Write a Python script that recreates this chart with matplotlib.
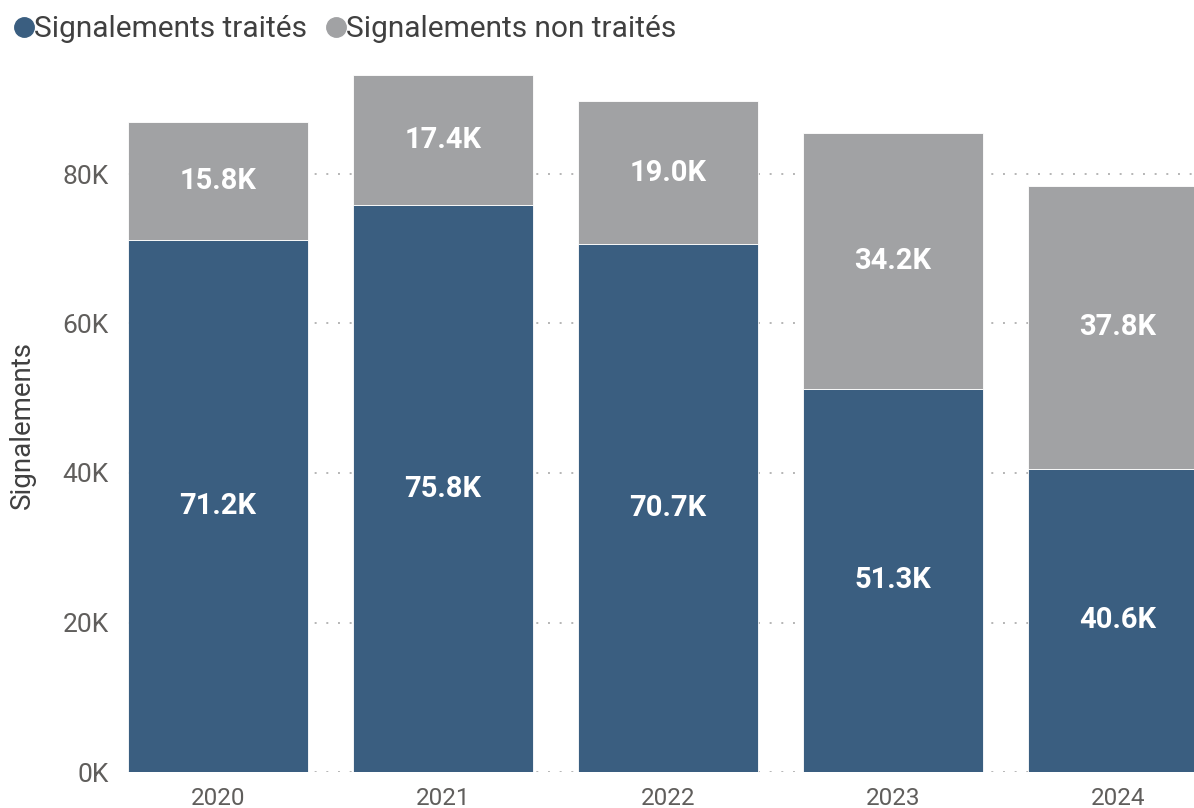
import matplotlib
matplotlib.use("Agg")
import matplotlib.pyplot as plt
from matplotlib.lines import Line2D
from matplotlib.ticker import FuncFormatter, MultipleLocator

plt.rcParams['font.family'] = ['Roboto', 'DejaVu Sans']

years = ["2020", "2021", "2022", "2023", "2024"]
traites = [71.2, 75.8, 70.7, 51.3, 40.6]        # thousands
non_traites = [15.8, 17.4, 19.0, 34.2, 37.8]    # thousands
series_names = ["Signalements traités", "Signalements non traités"]

BLUE = "#3A5E80"
GREY = "#A1A2A4"
TEXT = "#605E5C"

fig = plt.figure(figsize=(11.94, 8.08), dpi=100)
ax = fig.add_axes([128 / 1194, 36 / 808, 1066 / 1194, 706 / 808])

x = list(range(len(years)))
width = 0.8
ax.bar(x, traites, width=width, color=BLUE, edgecolor="white",
       linewidth=0.6, zorder=3)
ax.bar(x, non_traites, width=width, bottom=traites, color=GREY,
       edgecolor="white", linewidth=0.6, zorder=3)

for i in x:
    ax.text(i, traites[i] / 2, f"{traites[i]:.1f}K", ha="center", va="center",
            color="white", fontsize=21, fontweight="bold", zorder=4)
    ax.text(i, traites[i] + non_traites[i] / 2, f"{non_traites[i]:.1f}K",
            ha="center", va="center", color="white", fontsize=21,
            fontweight="bold", zorder=4)

ax.set_xlim(-0.4, -0.4 + 1066 / 225)
ax.set_ylim(0, 706 / 7.475)
ax.yaxis.set_major_locator(MultipleLocator(20))
ax.yaxis.set_major_formatter(FuncFormatter(lambda v, p: f"{v:.0f}K"))
ax.grid(axis="y", linestyle=(0, (1, 5)), color="#B5B5B5", linewidth=1.4, zorder=0)
ax.set_axisbelow(True)

ax.set_xticks(x)
ax.set_xticklabels(years)
ax.tick_params(axis="x", length=0, pad=11, labelsize=17.5, labelcolor=TEXT)
ax.tick_params(axis="y", length=0, pad=14, labelsize=19, labelcolor=TEXT)
for s in ax.spines.values():
    s.set_visible(False)

fig.text(22 / 1194, 1 - 425 / 808, "Signalements", rotation=90, ha="center",
         va="center", fontsize=20, color="#404040")

handles = [Line2D([], [], marker="o", linestyle="none", markersize=14,
                  markerfacecolor=c, markeredgecolor=c) for c in (BLUE, GREY)]
fig.legend(handles, series_names, loc="upper left",
           bbox_to_anchor=(0.0, 1.0 - 6 / 808), ncol=2, frameon=False,
           fontsize=21.5, labelcolor="#404040", handletextpad=-0.15,
           columnspacing=0.45, borderaxespad=0.0, borderpad=0.3,
           handlelength=1.0)

fig.savefig("out.png", dpi=100)
